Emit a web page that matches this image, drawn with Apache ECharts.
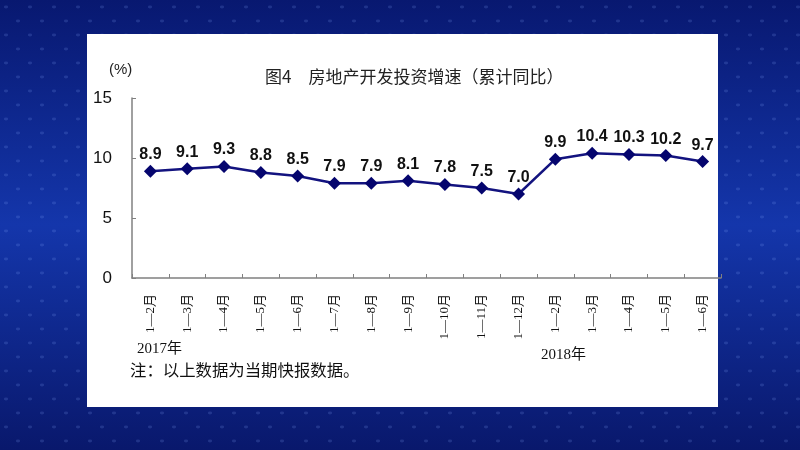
<!DOCTYPE html>
<html>
<head>
<meta charset="utf-8">
<script src="https://cdn.jsdelivr.net/npm/echarts@6/dist/echarts.min.js"></script>
<style>
html,body{margin:0;padding:0;background:#0b1e78;}
#chart{width:800px;height:450px;}
</style>
</head>
<body>
<div id="chart"></div>
<script>
const categories = ['1—2月','1—3月','1—4月','1—5月','1—6月','1—7月','1—8月','1—9月','1—10月','1—11月','1—12月','1—2月','1—3月','1—4月','1—5月','1—6月'];
const growth = [8.9, 9.1, 9.3, 8.8, 8.5, 7.9, 7.9, 8.1, 7.8, 7.5, 7.0, 9.9, 10.4, 10.3, 10.2, 9.7];
const yTicks = [0, 5, 10, 15];
const titleText = '图4　房地产开发投资增速（累计同比）';
const unitText = '(%)';
const year1 = '2017年';
const year2 = '2018年';
const noteText = '注：以上数据为当期快报数据。';

// faint dot pattern for the backdrop
const dotCanvas = document.createElement('canvas');
dotCanvas.width = 24; dotCanvas.height = 28;
(function () {
  const c = dotCanvas.getContext('2d');
  c.fillStyle = 'rgba(140,170,255,0.18)';
  c.beginPath(); c.ellipse(6, 7, 2.2, 1.4, 0, 0, Math.PI * 2); c.fill();
  c.beginPath(); c.ellipse(18, 21, 2.2, 1.4, 0, 0, Math.PI * 2); c.fill();
})();

const chart = echarts.init(document.getElementById('chart'), null, {renderer: 'canvas'});
const serif = '"Liberation Serif", "Noto Sans CJK SC", serif';
const sans = '"Liberation Sans", Arial, "Noto Sans CJK SC", sans-serif';

chart.setOption({
  animation: false,
  backgroundColor: {
    type: 'linear', x: 0, y: 0, x2: 0, y2: 1,
    colorStops: [
      {offset: 0, color: '#081870'},
      {offset: 0.5, color: '#1436ab'},
      {offset: 1, color: '#09186c'}
    ]
  },
  graphic: [
    {type: 'rect', z: -20, shape: {x: 0, y: 0, width: 800, height: 450}, style: {fill: {image: dotCanvas, repeat: 'repeat'}}},
    {type: 'rect', z: -10, shape: {x: 87, y: 34, width: 631, height: 373}, style: {fill: '#ffffff'}},
    {type: 'text', left: 265, top: 68, style: {text: titleText, font: '17px "Noto Sans CJK SC", sans-serif', fill: '#222'}},
    {type: 'text', left: 109, top: 62, style: {text: unitText, font: '15px ' + sans, fill: '#222'}},
    {type: 'text', left: 137, top: 342, style: {text: year1, font: '15px ' + serif, fill: '#111'}},
    {type: 'text', left: 541, top: 348, style: {text: year2, font: '15px ' + serif, fill: '#111'}},
    {type: 'text', left: 130, top: 364, style: {text: noteText, font: '16.4px ' + serif, fill: '#111'}}
  ],
  grid: {left: 132, top: 98, width: 589, height: 180, containLabel: false},
  xAxis: {
    type: 'category',
    data: categories,
    boundaryGap: true,
    axisLine: {show: true, lineStyle: {color: '#808080', width: 1.5}},
    axisTick: {show: true, inside: true, length: 4, lineStyle: {color: '#808080'}},
    axisLabel: {
      interval: 0, rotate: 90, margin: 16,
      fontFamily: serif, fontSize: 13, color: '#111'
    },
    splitLine: {show: false}
  },
  yAxis: {
    type: 'value',
    min: yTicks[0], max: yTicks[yTicks.length - 1], interval: 5,
    axisLine: {show: true, lineStyle: {color: '#808080', width: 1.5}},
    axisTick: {show: true, inside: true, length: 4, lineStyle: {color: '#808080'}},
    axisLabel: {margin: 20, fontFamily: sans, fontSize: 17, color: '#111'},
    splitLine: {show: false}
  },
  series: [{
    type: 'line',
    data: growth,
    symbol: 'diamond',
    symbolSize: 13,
    lineStyle: {color: '#13137f', width: 2.5},
    itemStyle: {color: '#05056e'},
    label: {
      show: true, position: 'top', distance: 2,
      fontFamily: sans, fontWeight: 'bold', fontSize: 16, color: '#111',
      formatter: p => p.value.toFixed(1)
    }
  }]
});
</script>
</body>
</html>
